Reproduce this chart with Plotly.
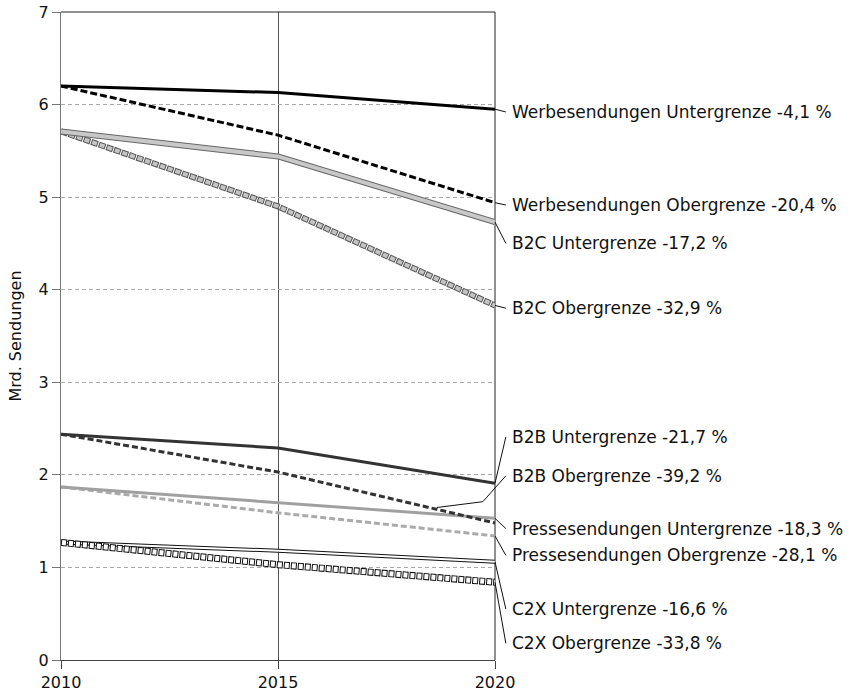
import plotly.graph_objects as go

years = [2010, 2015, 2020]
werbe_unter = [6.20, 6.13, 5.95]
werbe_ober = [6.20, 5.67, 4.94]
b2c_unter = [5.71, 5.44, 4.73]
b2c_ober = [5.71, 4.90, 3.83]
b2b_unter = [2.44, 2.29, 1.91]
b2b_ober = [2.44, 2.03, 1.48]
presse_unter = [1.87, 1.70, 1.53]
presse_ober = [1.87, 1.59, 1.34]
c2x_unter = [1.27, 1.18, 1.06]
c2x_ober = [1.27, 1.03, 0.84]

label_texts = [
    "Werbesendungen Untergrenze -4,1 %",
    "Werbesendungen Obergrenze -20,4 %",
    "B2C Untergrenze -17,2 %",
    "B2C Obergrenze -32,9 %",
    "B2B Untergrenze -21,7 %",
    "B2B Obergrenze -39,2 %",
    "Pressesendungen Untergrenze -18,3 %",
    "Pressesendungen Obergrenze -28,1 %",
    "C2X Untergrenze -16,6 %",
    "C2X Obergrenze -33,8 %",
]
label_y = [5.92, 4.915, 4.50, 3.80, 2.41, 1.99, 1.42, 1.13, 0.55, 0.18]

y_ticks = [0, 1, 2, 3, 4, 5, 6, 7]
x_ticks = [2010, 2015, 2020]

FONT = "DejaVu Sans"

fig = go.Figure()


def add(y, color, width, dash="solid", name=""):
    fig.add_trace(go.Scatter(x=years, y=y, mode="lines", name=name,
                             line=dict(color=color, width=width, dash=dash),
                             hoverinfo="skip", showlegend=False))


# C2X
add(c2x_unter, "#111111", 4, name="C2X Untergrenze")
add(c2x_unter, "#ffffff", 2)
add(c2x_ober, "#111111", 7, "6px,1px", name="C2X Obergrenze")
add(c2x_ober, "#ffffff", 5, "0px,1px,4px,2px")
# Presse
add(presse_ober, "#aaaaaa", 3, "6px,3px", name="Presse Obergrenze")
add(presse_unter, "#a0a0a0", 3, name="Presse Untergrenze")
# B2B
add(b2b_ober, "#333333", 3, "6px,3px", name="B2B Obergrenze")
add(b2b_unter, "#333333", 3, name="B2B Untergrenze")
# B2C
add(b2c_ober, "#555555", 6, "7px,1px", name="B2C Obergrenze")
add(b2c_ober, "#c4c4c4", 4, "0px,1px,5px,2px")
add(b2c_unter, "#666666", 6, name="B2C Untergrenze")
add(b2c_unter, "#c8c8c8", 4)
# Werbesendungen
add(werbe_ober, "#000000", 3, "7px,3px", name="Werbesendungen Obergrenze")
add(werbe_unter, "#000000", 3, name="Werbesendungen Untergrenze")

ends = [werbe_unter[-1], werbe_ober[-1], b2c_unter[-1], b2c_ober[-1],
        b2b_unter[-1], None, presse_unter[-1], presse_ober[-1],
        c2x_unter[-1], c2x_ober[-1]]

LX = 1.034
LEAD = 1.025
shapes = []
for i, (txt, ly) in enumerate(zip(label_texts, label_y)):
    fig.add_annotation(x=LX, xref="x domain", y=ly, yref="y", text=txt,
                       showarrow=False, xanchor="left", yanchor="middle",
                       font=dict(family=FONT, size=17, color="#111111"))
    if ends[i] is not None:
        shapes.append(dict(type="line", xref="x domain", yref="y",
                           x0=1.0, y0=ends[i], x1=LEAD, y1=ly,
                           line=dict(color="#111111", width=1)))

# B2B Obergrenze leader (starts on the dashed line before 2020)
fx = 0.866
t = (fx * 10 - 5) / 5
y_start = b2b_ober[1] + (b2b_ober[2] - b2b_ober[1]) * t
shapes.append(dict(type="line", xref="x domain", yref="y",
                   x0=fx, y0=y_start + 0.02, x1=0.972, y1=1.71,
                   line=dict(color="#111111", width=1)))
shapes.append(dict(type="line", xref="x domain", yref="y",
                   x0=0.972, y0=1.71, x1=LEAD, y1=label_y[5],
                   line=dict(color="#111111", width=1)))

# top border
shapes.append(dict(type="line", xref="x domain", yref="y domain",
                   x0=0, y0=1, x1=1, y1=1, layer="above",
                   line=dict(color="#222222", width=1)))
# right border
shapes.append(dict(type="line", xref="x domain", yref="y domain",
                   x0=1, y0=0, x1=1, y1=1, layer="below",
                   line=dict(color="#222222", width=1)))

fig.update_layout(
    width=851, height=694,
    margin=dict(l=61, r=356, t=12, b=34),
    paper_bgcolor="white", plot_bgcolor="white",
    font=dict(family=FONT, size=16, color="#111111"),
    shapes=shapes,
    showlegend=False,
)
fig.update_xaxes(range=[2010, 2020], tickvals=x_ticks,
                 ticktext=[str(v) for v in x_ticks], automargin=False,
                 showline=True, linecolor="#444444", linewidth=1,
                 ticks="outside", ticklen=8, tickcolor="#444444",
                 showgrid=True, gridcolor="#555555", gridwidth=1,
                 zeroline=False, fixedrange=True,
                 tickfont=dict(family=FONT, size=16, color="#111111"))
fig.update_yaxes(range=[0, 7], tickvals=y_ticks, automargin=False,
                 showline=True, linecolor="#777777", linewidth=1,
                 ticks="outside", ticklen=8, tickcolor="#777777",
                 showgrid=True, gridcolor="#aaaaaa", griddash="4px,3px",
                 gridwidth=1, zeroline=False, fixedrange=True,
                 title=dict(text="Mrd. Sendungen", standoff=13,
                            font=dict(family=FONT, size=16, color="#111111")),
                 tickfont=dict(family=FONT, size=16, color="#111111"))

fig.write_html("out.html", config={"displayModeBar": False},
               post_script="document.body.style.margin='0px';"
                           "document.body.style.overflow='hidden';")
